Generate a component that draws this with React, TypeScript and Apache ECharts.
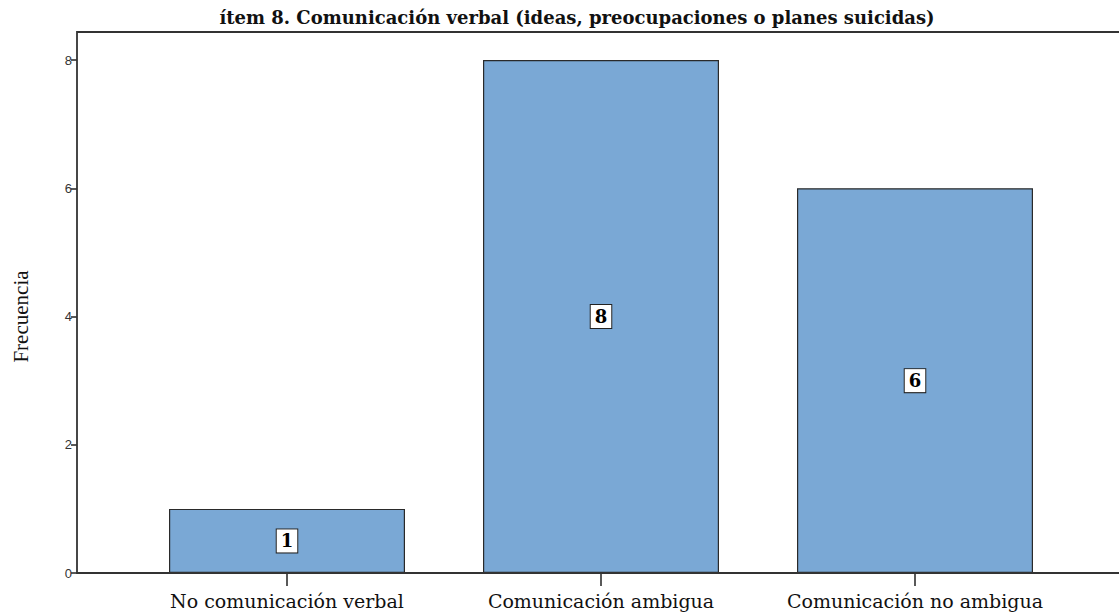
import React, { useEffect, useRef } from "react";
import * as echarts from "echarts";

const titleText = "ítem 8. Comunicación verbal (ideas, preocupaciones o planes suicidas)";
const categories = ["No comunicación verbal", "Comunicación ambigua", "Comunicación no ambigua"];
const frequencies = [1, 8, 6];
const yAxisName = "Frecuencia";

export default function App() {
  const ref = useRef<HTMLDivElement>(null);
  useEffect(() => {
    document.body.style.margin = "0";
    const chart = echarts.init(ref.current!, null, { renderer: "svg" });
    chart.setOption({
      animation: false,
      backgroundColor: "#ffffff",
      title: {
        text: titleText,
        left: 572,
        textAlign: "center",
        top: 3,
        textStyle: { fontFamily: "DejaVu Serif", fontWeight: "bold", fontSize: 18, color: "#111" },
      },
      grid: { left: 130, right: 47, top: 60, bottom: 43 },
      xAxis: {
        type: "category",
        data: categories,
        axisLine: { show: false },
        axisTick: { show: true, interval: 0, alignWithLabel: true, length: 13, lineStyle: { color: "#222", width: 1.5 } },
        axisLabel: { interval: 0, hideOverlap: false, margin: 18, fontFamily: "DejaVu Serif", fontSize: 19, color: "#111" },
      },
      yAxis: {
        type: "value",
        min: 0,
        max: 8,
        interval: 2,
        offset: 53,
        name: yAxisName,
        nameLocation: "middle",
        nameGap: 46,
        nameRotate: 90,
        nameTextStyle: { fontFamily: "Liberation Serif", fontSize: 21, color: "#111" },
        axisLine: { show: false },
        axisTick: { show: true, length: 6, lineStyle: { color: "#222", width: 1.5 } },
        axisLabel: { margin: 5, fontFamily: "Liberation Sans", fontSize: 13, color: "#333" },
        splitLine: { show: false },
      },
      graphic: [
        {
          type: "polyline",
          shape: { points: [[1119, 32], [77, 32], [77, 573], [1119, 573]] },
          style: { stroke: "#333", lineWidth: 1.8, fill: null },
          z: 10,
        },
      ],
      series: [
        {
          type: "bar",
          data: frequencies,
          barWidth: 236,
          itemStyle: { color: "#7aa8d5", borderColor: "#2a2a2a", borderWidth: 1.2 },
          label: {
            show: true,
            position: "inside",
            fontFamily: "DejaVu Serif",
            fontWeight: "bold",
            fontSize: 18,
            color: "#000",
            backgroundColor: "#ffffff",
            borderColor: "#222",
            borderWidth: 1,
            padding: [3, 4, 2, 4],
          },
        },
      ],
    });
    return () => chart.dispose();
  }, []);
  return <div ref={ref} style={{ position: "fixed", left: 0, top: 0, width: 1119, height: 616 }} />;
}
